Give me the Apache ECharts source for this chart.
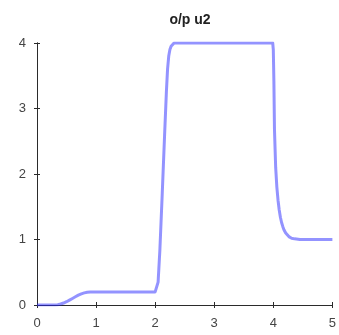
<!DOCTYPE html>
<html>
<head>
<meta charset="utf-8">
<script src="https://cdn.jsdelivr.net/npm/echarts@6/dist/echarts.min.js"></script>
<style>
  html, body { margin: 0; padding: 0; background: #fff; }
  #chart { width: 339px; height: 335px; }
</style>
</head>
<body>
<div id="chart"></div>
<script>
// 数据
var chartTitle = 'o/p u2';
var tVals = [0, 0.3, 0.35, 0.4, 0.45, 0.5, 0.55, 0.6, 0.65, 0.7, 0.75, 0.8, 0.85, 0.9, 1.0, 1.5, 2.0, 2.03, 2.05, 2.08, 2.12, 2.16, 2.19, 2.21, 2.23, 2.25, 2.27, 2.29, 2.32, 2.36, 3.0, 3.5, 3.99, 4.0, 4.01, 4.02, 4.04, 4.06, 4.08, 4.1, 4.12, 4.14, 4.16, 4.18, 4.21, 4.24, 4.27, 4.31, 4.36, 4.45, 4.6, 5.0];
var u2Vals = [0, 0, 0.005, 0.015, 0.03, 0.05, 0.075, 0.1, 0.125, 0.15, 0.17, 0.185, 0.195, 0.2, 0.2, 0.2, 0.2, 0.2, 0.35, 0.84, 1.7, 2.6, 3.25, 3.6, 3.8, 3.9, 3.95, 3.98, 4, 4, 4, 4, 4, 3.9, 3.4, 2.67, 2.1, 1.8, 1.6, 1.45, 1.34, 1.26, 1.2, 1.15, 1.1, 1.07, 1.04, 1.02, 1.01, 1.0, 1.0, 1.0];
var xTicks = [0, 1, 2, 3, 4, 5];
var yTicks = [0, 1, 2, 3, 4];

(function () {
  var myChart = echarts.init(document.getElementById('chart'));
  var pts = tVals.map(function (t, i) { return [t, u2Vals[i]]; });
  var axisColor = '#2b2b2b';
  var fontFam = 'Liberation Sans, Arial, sans-serif';
  var labelStyle = { color: '#444', fontSize: 13, fontFamily: fontFam };

  var option = {
    animation: false,
    title: {
      text: chartTitle,
      left: 185,
      textAlign: 'center',
      top: 8,
      textStyle: { fontSize: 14, fontWeight: 'bold', color: '#222', fontFamily: fontFam }
    },
    grid: { left: 37, right: 6, top: 43, bottom: 30 },
    xAxis: [
      {
        type: 'value', min: 0, max: 5, interval: 1,
        axisLine: { show: true, lineStyle: { color: axisColor, width: 1 } },
        axisTick: { show: true, inside: true, length: 3, lineStyle: { color: axisColor } },
        axisLabel: Object.assign({ margin: 12 }, labelStyle),
        splitLine: { show: false }
      },
      {
        type: 'value', min: 0, max: 5, interval: 1, position: 'top',
        axisLine: { show: true, lineStyle: { color: axisColor, width: 1 } },
        axisTick: { show: true, inside: true, length: 3, lineStyle: { color: axisColor } },
        axisLabel: { show: false },
        splitLine: { show: false }
      }
    ],
    yAxis: [
      {
        type: 'value', min: 0, max: 4, interval: 1,
        axisLine: { show: true, lineStyle: { color: axisColor, width: 1 } },
        axisTick: { show: true, inside: true, length: 3, lineStyle: { color: axisColor } },
        axisLabel: Object.assign({ margin: 11 }, labelStyle),
        splitLine: { show: false }
      },
      {
        type: 'value', min: 0, max: 4, interval: 1, position: 'right',
        axisLine: { show: true, lineStyle: { color: axisColor, width: 1 } },
        axisTick: { show: true, inside: true, length: 3, lineStyle: { color: axisColor } },
        axisLabel: { show: false },
        splitLine: { show: false }
      }
    ],
    series: [
      {
        name: 'u2',
        type: 'line',
        data: pts,
        xAxisIndex: 0,
        yAxisIndex: 0,
        showSymbol: false,
        lineStyle: { color: 'rgba(40,40,255,0.5)', width: 3, join: 'round' }
      }
    ]
  };
  myChart.setOption(option);
})();
</script>
</body>
</html>
